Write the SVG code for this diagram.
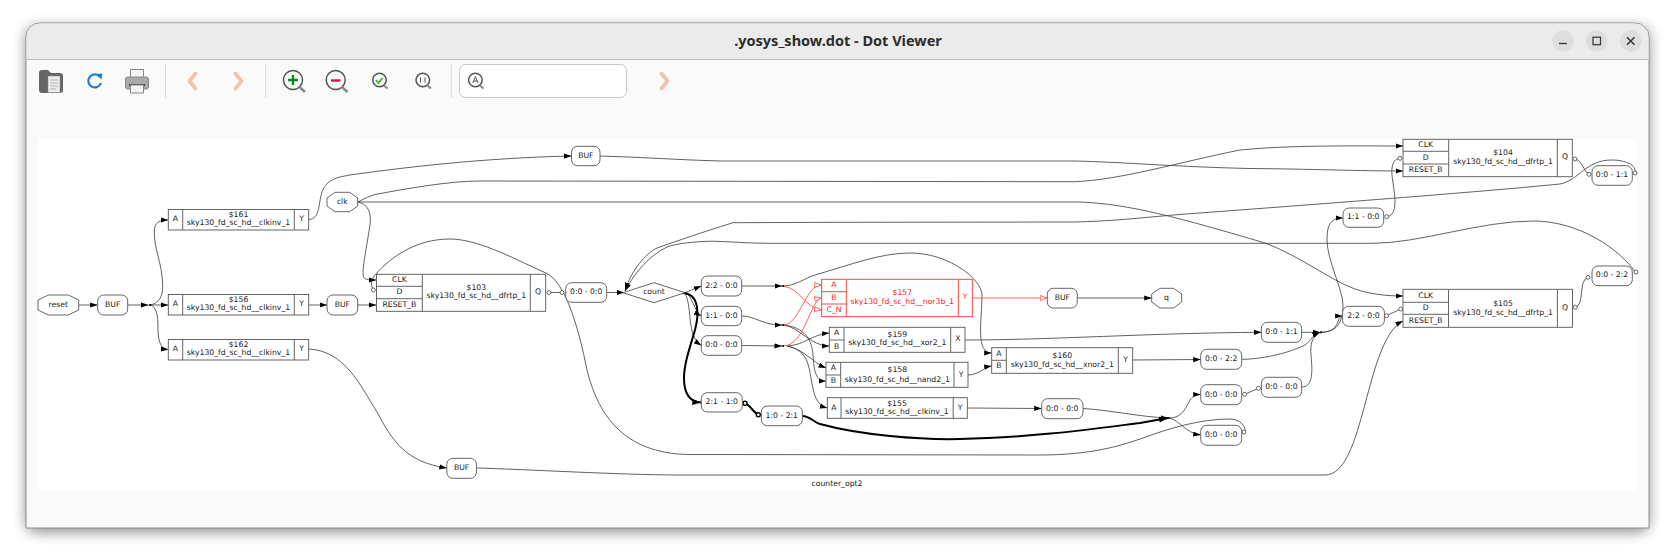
<svg xmlns="http://www.w3.org/2000/svg" width="1675" height="557" viewBox="0 0 1675 557">
<style>
text{font-family:"DejaVu Sans",sans-serif;font-size:7.7px;fill:#222;text-anchor:middle;dominant-baseline:central}
.r text{fill:#f22}
.s{fill:#fff;stroke:#555;stroke-width:.9}
.d{fill:none;stroke:#555;stroke-width:.9}
.r .s{stroke:#f33}.r .d{stroke:#f33}
.e{fill:none;stroke:#444;stroke-width:.85}
.ea{marker-end:url(#a)}
.er{stroke:#f44;marker-end:url(#h)}
.t{stroke:#000;stroke-width:2}
.o{fill:#fff;stroke:#444;stroke-width:.8}
.ot{fill:#fff;stroke:#000;stroke-width:1.4}
.j{fill:#000}
.ic{fill:none;stroke:#555;stroke-width:1.5}
.sep{stroke:#dcdcdc;stroke-width:1}
.ch{fill:none;stroke:#eec4ae;stroke-width:3.8;stroke-linecap:round;stroke-linejoin:round}
</style>
<defs>
<filter id="sh" x="-5%" y="-15%" width="110%" height="130%"><feGaussianBlur stdDeviation="7"/></filter>
<marker id="a" markerUnits="userSpaceOnUse" markerWidth="9" markerHeight="7" refX="7.5" refY="3.5" orient="auto"><path d="M0,.9L7.5,3.5L0,6.1z" fill="#000"/></marker>
<marker id="at" markerUnits="userSpaceOnUse" markerWidth="10" markerHeight="8" refX="9" refY="4" orient="auto"><path d="M0,1L9,4L0,7z" fill="#000"/></marker>
<marker id="h" markerUnits="userSpaceOnUse" markerWidth="9" markerHeight="7" refX="7.5" refY="3.5" orient="auto"><path d="M.5,1L7,3.5L.5,6z" fill="#fff" stroke="#f44" stroke-width=".8"/></marker>
</defs>
<rect width="1675" height="557" fill="#fff"/>
<g id="window">
<rect x="26" y="27" width="1623" height="505" rx="10" fill="#000" opacity=".45" filter="url(#sh)"/>
<path d="M26,528V37a14,14 0 0 1 14,-14H1635a14,14 0 0 1 14,14V528z" fill="#fafafa" stroke="#8c8c8c" stroke-width="1"/>
<path d="M26.500,59V37a13.500,13.500 0 0 1 13.500,-13.500H1635a13.500,13.500 0 0 1 13.500,13.500V59z" fill="#ebebeb"/>
<path d="M26,59.500H1649" stroke="#bdbdbd" stroke-width="1"/>
<text x="838" y="40" style="font-family:'Noto Sans','Open Sans',sans-serif;font-size:14.500px;font-weight:700;fill:#2d2d2d">.yosys_show.dot - Dot Viewer</text>
<circle cx="1563" cy="41" r="10.700" fill="#dedede"/><path d="M1559,43.500h8" stroke="#333" stroke-width="1.300"/>
<circle cx="1596.700" cy="41" r="10.700" fill="#dedede"/><rect x="1593" y="37.200" width="7.500" height="7.500" fill="none" stroke="#333" stroke-width="1.200"/>
<circle cx="1630.700" cy="41" r="10.700" fill="#dedede"/><path d="M1627,37.300l7.500,7.500m0,-7.500l-7.500,7.500" stroke="#333" stroke-width="1.500"/>
</g>
<g id="toolbar">
<path d="M39,73a3,3 0 0 1 3,-3h6l3,3h9a3,3 0 0 1 3,3v14a3,3 0 0 1 -3,3H42a3,3 0 0 1 -3,-3z" fill="#666"/>
<path d="M48,76h12v16.500H48z" fill="#ececec" stroke="#888" stroke-width=".5"/>
<path d="M50,80h8M50,83h8M50,86h8M50,89h6" stroke="#aaa" stroke-width=".8"/>
<path d="M100,77a6.500,6.500 0 1 0 1,6" fill="none" stroke="#1c7ed6" stroke-width="2.200"/><path d="M96,74l6.500,-.5l-1,6z" fill="#1c7ed6"/>
<rect x="130.500" y="69.500" width="13" height="9" fill="#f4f4f4" stroke="#888"/>
<rect x="125.500" y="77" width="23" height="12" rx="2" fill="#aaa" stroke="#888"/>
<rect x="129" y="84" width="16" height="2" fill="#444"/>
<rect x="130.500" y="85" width="13" height="8" fill="#f4f4f4" stroke="#888"/>
<path class="sep" d="M165.600,64V98M265.600,64V98M451.300,64V98"/>
<path class="ch" d="M195.500,73.500L189.500,81L195.500,88.500"/>
<path class="ch" d="M235.500,73.500L241.500,81L235.500,88.500"/>
<circle class="ic" cx="293" cy="80" r="9.500" fill="#fff"/><path d="M299.500,87l5.500,5" stroke="#888" stroke-width="2.400"/><path d="M288,80h10M293,75v10" stroke="#0a8a1e" stroke-width="2.400"/>
<circle class="ic" cx="335.700" cy="80" r="9.500"/><path d="M342,87l5.500,5" stroke="#888" stroke-width="2.400"/><path d="M331,80.500h9.500" stroke="#d0163a" stroke-width="2.400"/>
<circle class="ic" cx="379.500" cy="80" r="6.800"/><path d="M384,85.500l3.500,3" stroke="#888" stroke-width="2"/><path d="M376,80l2.500,3l4,-5" fill="none" stroke="#4caf20" stroke-width="1.800"/>
<circle class="ic" cx="422.800" cy="80" r="6.800"/><path d="M427.500,85.500l3.500,3" stroke="#888" stroke-width="2"/><path d="M420.500,77.500v5M425,77.500v5M422.800,79h.1M422.800,81.500h.1" stroke="#555" stroke-width="1"/>
<rect x="459.500" y="64.500" width="167" height="33" rx="6" fill="#fff" stroke="#c8c8c8"/>
<circle class="ic" cx="475.400" cy="80" r="6.800"/><path d="M480,85.500l3.500,3" stroke="#888" stroke-width="2"/><path d="M472.800,83l2.600,-6.500l2.600,6.500M473.800,81h3.200" fill="none" stroke="#555" stroke-width="1"/>
<path class="ch" d="M661.500,73.500L667.500,81L661.500,88.500"/>
</g>
<rect id="canvas" x="38" y="139" width="1599" height="352" fill="#fff"/>
<g id="connectors">
<path class="e ea" d="M78.700,305H97.700"/>
<path class="e ea" d="M127.700,305H148.500"/>
<path class="e ea" d="M150,305C160,303 163,295 162.700,285C162,262 154,250 154.300,231C154.500,222 160,220 168.300,220"/>
<path class="e ea" d="M150,305H168.300"/>
<path class="e ea" d="M150,305C156,306 158,315 158,327C158,340 160,349 168.300,349.500"/>
<path class="e ea" d="M308.700,219.500C320,219 318,205 322,192C327,178 340,177 350,175C400,168 480,158 571.500,156"/>
<path class="e ea" d="M600,156C640,157 680,160 720,161L1075,161C1120,162 1180,167 1250,168.500C1310,169 1360,171 1403,171"/>
<path class="e ea" d="M358,202C365,198 370,196 375,194.500C410,188 450,181 480,181L1075,181.700C1120,180 1180,162 1240,150C1290,145 1350,146 1403,146"/>
<path class="e ea" d="M358,202L1080,202C1130,204 1180,218 1265,243C1300,256 1330,280 1355,289C1370,294 1385,296 1403,296"/>
<path class="e ea" d="M358,202C370,205 371,215 370,225C366,250 363,265 363,274C363,280 368,280 376.500,280"/>
<path class="e ea" d="M308.700,305H327"/>
<path class="e ea" d="M357.700,305H376.500"/>
<path class="e ea" d="M308.700,349C345,351 360,385 377,412C392,440 405,462 446.800,468"/>
<path class="e ea" d="M476.400,468C520,469 620,475 680,475L1325,475C1365,475 1365,340 1403,321"/>
<path class="e" d="M373.300,290C371,285 370,280 376,274C390,258 415,239 450,239C480,239 520,262 546,273C565,282 578,325 587,370C597,410 620,454 690,454.500L1040,455C1090,455 1120,446 1140,439C1170,428 1200,419 1230,419C1238,419 1246,425 1245,431"/>
<path class="e" d="M549,292.500H562"/>
<path class="e ea" d="M606.700,292.500H624"/>
<path class="e ea" d="M1635,173C1637,165 1625,160 1612,160C1585,160 1580,180 1560,184C1480,192 1320,204 1173,215C1130,219 1110,221 1075,222L840,222.300L733,222.700C700,233 680,240 657,248C645,254 632,270 625,290"/>
<path class="e ea" d="M1635,271.700C1620,250 1580,221 1533,221C1480,221 1420,243.300 1373,243.300L840,243.300L767,243.300C740,243 725,241 707,241.300C690,242 675,244 667,247C650,255 635,272 625,291"/>
<path class="e ea" d="M685,292.700L701.300,286"/>
<path class="e ea" d="M685,292.700C693,296 694,312 701.300,316"/>
<path class="e ea" d="M685,292.700C693,310 686,335 701.300,345.500"/>
<path class="e t" style="marker-end:url(#at)" d="M682,293C700,293 699,315 695,330C689,350 684,365 684,378C684,395 690,402 701.300,402.500"/>
<path class="e ea" d="M741.700,286H782"/>
<path class="e ea" d="M741.700,316C755,316 762,325 782,325"/>
<path class="e ea" d="M741.700,345.500L782,346"/>
<path class="e ea" d="M783,286C795,286 805,278 815,275C850,265 880,253 910,253C950,253 982,280 982,295C982,320 975,353 991.700,353"/>
<path class="e ea" d="M783,325C800,327 810,346 829.300,346"/>
<path class="e ea" d="M783,325C805,327 812,340 813,355C814,372 816,381 826,381"/>
<path class="e ea" d="M787,346C805,350 812,362 826,368"/>
<path class="e ea" d="M787,346C805,350 808,360 811,378C814,395 816,405 827.300,408"/>
<path class="e ea" d="M787,346C805,345 810,335 829.300,333"/>
<path class="e er" d="M783,286C800,288 805,308 821.700,310"/>
<path class="e er" d="M783,325C800,325 805,285 821.700,285"/>
<path class="e er" d="M783,346C805,346 810,300 821.700,298"/>
<path class="e er" d="M972.300,298H1047.300"/>
<path class="e ea" d="M1077.300,298H1151.700"/>
<path class="e ea" d="M965,340C1050,340 1150,333 1261.400,332.300"/>
<path class="e ea" d="M968,375C978,375 985,367 991.700,366"/>
<path class="e ea" d="M1132.700,360L1200.700,359.500"/>
<path class="e ea" d="M967.300,408L1041.700,408.500"/>
<path class="e ea" d="M1083,408.500C1110,410 1140,417 1168,418"/>
<path class="e t" style="marker-end:url(#at)" d="M802.300,416C810,416 815,423 820,424C860,435 920,440 960,439C1030,438 1100,428 1140,423L1168,418"/>
<path class="e t" d="M745,403.300C750,405 753,412 758.300,414.800"/>
<path class="e ea" d="M1169,418C1180,418 1184,412 1190,400C1193,396 1195,394.500 1200.700,394.500"/>
<path class="e ea" d="M1169,418C1180,420 1185,433 1200.700,435"/>
<path class="e" d="M1244.700,394.300L1258.400,388.300"/>
<path class="e ea" d="M1301.600,387C1312,387 1313,375 1311,355C1310,345 1312,336 1320,332.300"/>
<path class="e ea" d="M1241.700,359.300C1270,359 1295,350 1305,345C1312,340 1312,335 1320,332.300"/>
<path class="e ea" d="M1301.600,332.300H1320"/>
<path class="e ea" d="M1321,332.300C1332,332 1335,328 1338,322C1339,319 1340,316 1342.600,316"/>
<path class="e ea" d="M1321,332.300C1335,332 1343,325 1343,305C1343,290 1327,260 1327,240C1327,225 1330,218 1343,218"/>
<path class="e" d="M1386.600,315.700L1400.700,309"/>
<path class="e" d="M1386.700,216.700C1394,216 1395,208 1395,200C1394,185 1391,175 1392,168C1393,162 1395,159 1400,158.300"/>
<path class="e" d="M1575,159C1582,160 1584,172 1589,174.300"/>
<path class="e" d="M1575.300,307.300C1585,305 1578,280 1588,277.300"/>
<circle class="o" cx="373.300" cy="290" r="2"/><circle class="o" cx="549" cy="292.500" r="2"/><circle class="o" cx="562" cy="292.500" r="2"/>
<circle class="o" cx="1244" cy="432" r="2"/><circle class="o" cx="1244.700" cy="394.300" r="2"/><circle class="o" cx="1258.400" cy="388.300" r="2"/>
<circle class="o" cx="1386.600" cy="315.700" r="2"/><circle class="o" cx="1400.700" cy="309" r="2"/>
<circle class="o" cx="1386.700" cy="216.700" r="2"/><circle class="o" cx="1400" cy="158.300" r="2"/>
<circle class="o" cx="1575" cy="159" r="2"/><circle class="o" cx="1589" cy="174.300" r="2"/><circle class="o" cx="1635" cy="173" r="2"/>
<circle class="o" cx="1575.300" cy="307.300" r="2"/><circle class="o" cx="1588" cy="277.300" r="2"/><circle class="o" cx="1636" cy="272" r="2"/>
<circle class="ot" cx="745" cy="403.300" r="2"/><circle class="ot" cx="758.300" cy="414.800" r="2"/>
<circle class="j" cx="150" cy="305" r="1.100"/><circle class="j" cx="783" cy="286" r="1.100"/><circle class="j" cx="783" cy="325" r="1.100"/><circle class="j" cx="783" cy="346" r="1.100"/><circle class="j" cx="1169" cy="418" r="1.100"/><circle class="j" cx="1321" cy="332.300" r="1.100"/>
</g>
<g id="reset"><polygon class="s" points="38,300 48.300,295 68.300,295 78.700,300 78.700,310 68.300,315 48.300,315 38,310"/><text x="58.300" y="304.500">reset</text></g>
<g id="buf1"><rect class="s" x="97.700" y="295" width="30" height="20" rx="6"/><text x="112.700" y="304.500">BUF</text></g>
<g id="n161"><rect class="s" x="168.300" y="209.500" width="140.400" height="20.500"/><path class="d" d="M182.700,209.500v20.500M294.300,209.500v20.500"/><text x="175.500" y="218.500">A</text><text x="238.500" y="214.300">$161</text><text x="238.500" y="222.500">sky130_fd_sc_hd__clkinv_1</text><text x="301.500" y="218.500">Y</text></g>
<g id="n156"><rect class="s" x="168.300" y="294.500" width="140.400" height="20.500"/><path class="d" d="M182.700,294.500v20.500M294.300,294.500v20.500"/><text x="175.500" y="303.500">A</text><text x="238.500" y="299.300">$156</text><text x="238.500" y="307.500">sky130_fd_sc_hd__clkinv_1</text><text x="301.500" y="303.500">Y</text></g>
<g id="n162"><rect class="s" x="168.300" y="339.500" width="140.400" height="20.500"/><path class="d" d="M182.700,339.500v20.500M294.300,339.500v20.500"/><text x="175.500" y="348.500">A</text><text x="238.500" y="344.300">$162</text><text x="238.500" y="352.500">sky130_fd_sc_hd__clkinv_1</text><text x="301.500" y="348.500">Y</text></g>
<g id="clk"><polygon class="s" points="327,198 335,192.300 349.700,192.300 357.700,198 357.700,206 349.700,211.700 335,211.700 327,206"/><text x="342.300" y="201.500">clk</text></g>
<g id="buf2"><rect class="s" x="327" y="295" width="30.700" height="20" rx="6"/><text x="342.300" y="304.500">BUF</text></g>
<g id="buf3"><rect class="s" x="571.500" y="146.300" width="28.500" height="19.400" rx="6"/><text x="585.800" y="155.500">BUF</text></g>
<g id="buf4"><rect class="s" x="446.800" y="458.300" width="29.600" height="20" rx="6"/><text x="461.600" y="467.500">BUF</text></g>
<g id="n103"><rect class="s" x="376.500" y="274.300" width="169.200" height="37"/><path class="d" d="M376.500,286.300H422.300M376.500,298.700H422.300M422.300,274.300v37M530.300,274.300v37"/><text x="399.400" y="279.500">CLK</text><text x="399.400" y="291.500">D</text><text x="399.400" y="304.300">RESET_B</text><text x="476.300" y="287.300">$103</text><text x="476.300" y="295.500">sky130_fd_sc_hd__dfrtp_1</text><text x="538" y="291.500">Q</text></g>
<g id="x1"><rect class="s" x="565.700" y="282.700" width="41" height="19.600" rx="6"/><text x="586.200" y="291.500">0:0 - 0:0</text></g>
<g id="count"><polygon class="s" points="623,292.700 654,282.700 685,292.700 654,302.700"/><text x="654" y="291.500">count</text></g>
<g id="x2"><rect class="s" x="701.300" y="276" width="40.400" height="20" rx="6"/><text x="721.500" y="285.300">2:2 - 0:0</text></g>
<g id="x3"><rect class="s" x="701.300" y="306.300" width="40.400" height="19.400" rx="6"/><text x="721.500" y="315.300">1:1 - 0:0</text></g>
<g id="x4"><rect class="s" x="701.300" y="335.700" width="40.400" height="19.600" rx="6"/><text x="721.500" y="344.500">0:0 - 0:0</text></g>
<g id="x5"><rect class="s" x="701.300" y="392.700" width="41" height="19.300" rx="6"/><text x="721.800" y="401.500">2:1 - 1:0</text></g>
<g id="x6"><rect class="s" x="761.300" y="406" width="41" height="19.700" rx="6"/><text x="781.800" y="415">1:0 - 2:1</text></g>
<g id="n157" class="r"><rect class="s" x="821.700" y="279.300" width="150.600" height="37.400"/><path class="d" d="M821.700,291.700H846.300M821.700,304H846.300M846.300,279.300v37.400M958.300,279.300v37.400"/><text x="834" y="284.700">A</text><text x="834" y="297.500">B</text><text x="834" y="309.500">C_N</text><text x="902.300" y="292.300">$157</text><text x="902.300" y="301.300">sky130_fd_sc_hd__nor3b_1</text><text x="965" y="296">Y</text></g>
<g id="buf5"><rect class="s" x="1047.300" y="288.300" width="30" height="19.700" rx="6"/><text x="1062.300" y="297">BUF</text></g>
<g id="q"><polygon class="s" points="1151.700,294 1160,288.300 1173.700,288.300 1181.700,294 1181.700,302 1173.700,308 1160,308 1151.700,302"/><text x="1166.500" y="297">q</text></g>
<g id="n159"><rect class="s" x="829.300" y="327.300" width="135.700" height="25"/><path class="d" d="M829.300,340H844M844,327.300v25M950.700,327.300v25"/><text x="836.700" y="332.500">A</text><text x="836.700" y="346">B</text><text x="897.300" y="334">$159</text><text x="897.300" y="342.500">sky130_fd_sc_hd__xor2_1</text><text x="958" y="338.500">X</text></g>
<g id="n158"><rect class="s" x="826" y="362.300" width="142" height="25"/><path class="d" d="M826,375H840.700M840.700,362.300v25M954,362.300v25"/><text x="833.300" y="367.700">A</text><text x="833.300" y="380.500">B</text><text x="897.300" y="369.500">$158</text><text x="897.300" y="379">sky130_fd_sc_hd__nand2_1</text><text x="961" y="374">Y</text></g>
<g id="n155"><rect class="s" x="827.300" y="397.700" width="140" height="20.600"/><path class="d" d="M841,397.700v20.600M953.200,397.700v20.600"/><text x="834" y="407.500">A</text><text x="897" y="403">$155</text><text x="897" y="411.500">sky130_fd_sc_hd__clkinv_1</text><text x="960" y="407.500">Y</text></g>
<g id="n160"><rect class="s" x="991.700" y="347.700" width="141" height="25.600"/><path class="d" d="M991.700,360.300H1006.300M1006.300,347.700v25.600M1118.300,347.700v25.600"/><text x="999" y="353">A</text><text x="999" y="365.500">B</text><text x="1062.300" y="355">$160</text><text x="1062.300" y="364">sky130_fd_sc_hd__xnor2_1</text><text x="1125.500" y="359">Y</text></g>
<g id="x7"><rect class="s" x="1041.700" y="398.700" width="41.300" height="20" rx="6"/><text x="1062.300" y="408">0:0 - 0:0</text></g>
<g id="x8"><rect class="s" x="1261.400" y="322.300" width="40.200" height="20" rx="6"/><text x="1281.500" y="331.500">0:0 - 1:1</text></g>
<g id="x9"><rect class="s" x="1200.700" y="349.300" width="41" height="20" rx="6"/><text x="1221.200" y="358.500">0:0 - 2:2</text></g>
<g id="x10"><rect class="s" x="1200.700" y="384.700" width="41" height="20" rx="6"/><text x="1221.200" y="394">0:0 - 0:0</text></g>
<g id="x11"><rect class="s" x="1261.400" y="377.300" width="40.200" height="20" rx="6"/><text x="1281.500" y="386.500">0:0 - 0:0</text></g>
<g id="x12"><rect class="s" x="1200.700" y="425.300" width="41" height="20" rx="6"/><text x="1221.200" y="434.500">0:0 - 0:0</text></g>
<g id="x13"><rect class="s" x="1342.600" y="306.300" width="41.800" height="20" rx="6"/><text x="1363.500" y="315.500">2:2 - 0:0</text></g>
<g id="n105"><rect class="s" x="1403" y="289.300" width="169.500" height="38"/><path class="d" d="M1403,302.300H1448.500M1403,314.300H1448.500M1448.500,289.300v38M1557.400,289.300v38"/><text x="1425.700" y="295">CLK</text><text x="1425.700" y="307.500">D</text><text x="1425.700" y="320">RESET_B</text><text x="1503" y="303.500">$105</text><text x="1503" y="312">sky130_fd_sc_hd__dfrtp_1</text><text x="1565" y="307.500">Q</text></g>
<g id="n104"><rect class="s" x="1403" y="139.300" width="169.300" height="37.400"/><path class="d" d="M1403,151.300H1448.700M1403,164H1448.700M1448.700,139.300v37.400M1557.300,139.300v37.400"/><text x="1425.700" y="144.700">CLK</text><text x="1425.700" y="157">D</text><text x="1425.700" y="169.500">RESET_B</text><text x="1503" y="152">$104</text><text x="1503" y="161">sky130_fd_sc_hd__dfrtp_1</text><text x="1565" y="156.500">Q</text></g>
<g id="x14"><rect class="s" x="1592" y="165.700" width="40.300" height="19.600" rx="6"/><text x="1612" y="174.500">0:0 - 1:1</text></g>
<g id="x15"><rect class="s" x="1343" y="208" width="40.700" height="19.300" rx="6"/><text x="1363.300" y="216.800">1:1 - 0:0</text></g>
<g id="x16"><rect class="s" x="1592" y="266" width="40.300" height="19.700" rx="6"/><text x="1612" y="274.800">0:0 - 2:2</text></g>
<text id="graph-label" x="837" y="483.300">counter_opt2</text>
</svg>
